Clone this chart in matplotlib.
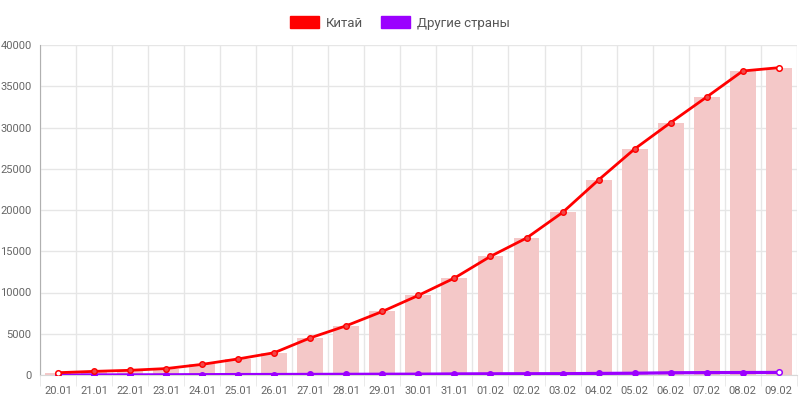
import numpy as np
import matplotlib
matplotlib.use('Agg')
from matplotlib import pyplot as plt
from matplotlib.patches import Patch

dates = ['20.01', '21.01', '22.01', '23.01', '24.01', '25.01', '26.01', '27.01',
         '28.01', '29.01', '30.01', '31.01', '01.02', '02.02', '03.02', '04.02',
         '05.02', '06.02', '07.02', '08.02', '09.02']
china = [280, 440, 570, 780, 1290, 1950, 2700, 4500, 5970, 7700, 9650, 11750,
         14380, 16600, 19700, 23650, 27400, 30600, 33700, 36850, 37250]
others = [5, 7, 10, 25, 40, 55, 60, 70, 80, 90, 100, 130, 146, 155, 160, 190,
          215, 270, 290, 300, 310]
yticks = [0, 5000, 10000, 15000, 20000, 25000, 30000, 35000, 40000]

plt.rcParams['font.family'] = ['Roboto', 'DejaVu Sans']

red = '#ff0000'
purple = '#9b00ff'
grid = '#e6e6e6'
txt = '#666666'

fig = plt.figure(figsize=(8, 4), dpi=100)
ax = fig.add_axes([0.05, 0.0625, 0.946, 0.825])

x = np.arange(len(dates))
ax.bar(x, china, width=0.72, color='#f4c8c8', zorder=1)

ax.plot(x, others, color=purple, lw=2.3, zorder=3)
ax.plot(x[:-1], others[:-1], 'o', ms=4, mfc=purple, mec=purple, zorder=4)
ax.plot(x[-1:], others[-1:], 'o', ms=4, mfc='white', mec=purple, mew=1.1, zorder=4)

ax.plot(x, china, color=red, lw=2.0, zorder=5)
ax.plot(x[1:-1], china[1:-1], 'o', ms=4, mfc='#f04848', mec=red, zorder=6)
ax.plot(x[[0, -1]], [china[0], china[-1]], 'o', ms=4, mfc='white', mec=red, mew=1.1, zorder=6)

ax.set_xlim(-0.5, len(dates) - 0.5)
ax.set_ylim(0, 40000)
ax.set_yticks(yticks)
ax.set_xticks(x)
ax.set_xticklabels(dates)
ax.set_xticks(np.arange(-0.5, len(dates), 1), minor=True)

ax.grid(False)
ax.yaxis.grid(True, color=grid, lw=1, zorder=0)
ax.xaxis.grid(True, which='minor', color=grid, lw=1, zorder=0)
ax.set_axisbelow(True)

ax.tick_params(axis='x', which='major', length=0, pad=8, labelsize=8, labelcolor=txt)
ax.tick_params(axis='x', which='minor', length=8, color=grid)
ax.tick_params(axis='y', length=0, pad=6, labelsize=8, labelcolor=txt)

for s in ['top', 'right']:
    ax.spines[s].set_visible(False)
ax.spines['left'].set_color('#b0b0b0')
ax.spines['bottom'].set_color('#d8d8d8')

handles = [Patch(facecolor=red, edgecolor=red), Patch(facecolor=purple, edgecolor=purple)]
fig.legend(handles, ['Китай', 'Другие страны'], loc='center', bbox_to_anchor=(0.5, 0.9425),
           ncol=2, frameon=False, handlelength=2.2, handleheight=1.0, handletextpad=0.5,
           columnspacing=1.4, prop={'size': 9.5}, labelcolor='#555555')

fig.savefig('out.png', dpi=100)
